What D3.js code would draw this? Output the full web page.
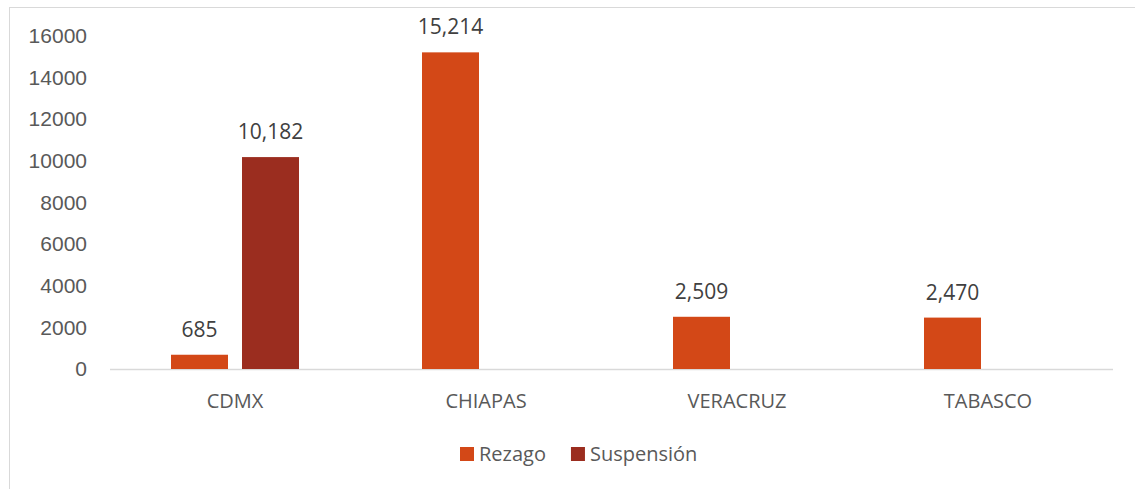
<!DOCTYPE html>
<html>
<head>
<meta charset="UTF-8">
<script src="https://d3js.org/d3.v7.min.js"></script>
<style>
    body { margin: 0; background: #fff; }
    svg { font-family: "Open Sans", sans-serif; display: block; }
    .tick-label { fill: #595959; font-size: 21px; }
    .cat-label { fill: #595959; font-size: 20px; }
    .val-label { fill: #404040; font-size: 21px; }
    .legend text { fill: #595959; font-size: 20px; }
</style>
</head>
<body>
<svg id="chart" width="1135" height="489"></svg>
<script>
var categories = ["CDMX", "CHIAPAS", "VERACRUZ", "TABASCO"];
var seriesNames = ["Rezago", "Suspensión"];
var rezago = [685, 15214, 2509, 2470];
var suspension = [10182, null, null, null];
var yTicks = [0, 2000, 4000, 6000, 8000, 10000, 12000, 14000, 16000];
var colors = ["#d34817", "#9b2d1f"];

var svg = d3.select('#chart');

// chart border (runs off the right and bottom)
svg.append('rect')
    .attr('x', 9.5).attr('y', 7.5)
    .attr('width', 1200).attr('height', 600)
    .attr('fill', 'none')
    .attr('stroke', '#d9d9d9');

var x0 = d3.scaleBand().domain(categories).range([109.5, 1113.5]);
var x1 = d3.scaleBand().domain(seriesNames).range([61.5, 189.5]).paddingInner(14 / 71);
var y = d3.scaleLinear().domain([0, 16000]).range([369, 36]);
var color = d3.scaleOrdinal().domain(seriesNames).range(colors);

// y axis labels
var yAxis = d3.axisLeft(y).tickValues(yTicks).tickSize(0).tickPadding(0).tickFormat(d3.format('d'));
var ya = svg.append('g').attr('transform', 'translate(87,0)').call(yAxis);
ya.select('.domain').remove();
ya.selectAll('text')
    .attr('class', 'tick-label')
    .attr('font-family', null).attr('font-size', null)
    .attr('fill', null);

// baseline
svg.append('line')
    .attr('x1', 110).attr('x2', 1113)
    .attr('y1', y(0) + 0.5).attr('y2', y(0) + 0.5)
    .attr('stroke', '#d9d9d9').attr('stroke-width', 1.5);

// bars
var rows = [];
categories.forEach(function(c, i) {
    rows.push({cat: c, s: seriesNames[0], v: rezago[i]});
    rows.push({cat: c, s: seriesNames[1], v: suspension[i]});
});
rows = rows.filter(function(d) { return d.v != null; });

svg.append('g').selectAll('rect')
    .data(rows)
    .join('rect')
    .attr('x', function(d) { return x0(d.cat) + x1(d.s); })
    .attr('y', function(d) { return y(d.v); })
    .attr('width', x1.bandwidth())
    .attr('height', function(d) { return y(0) - y(d.v); })
    .attr('fill', function(d) { return color(d.s); });

svg.append('g').selectAll('text')
    .data(rows)
    .join('text')
    .attr('class', 'val-label')
    .attr('text-anchor', 'middle')
    .attr('x', function(d) { return x0(d.cat) + x1(d.s) + x1.bandwidth() / 2; })
    .attr('y', function(d) { return y(d.v) - 18; })
    .text(function(d) { return d3.format(',')(d.v); });

// category labels
svg.append('g').selectAll('text')
    .data(categories)
    .join('text')
    .attr('class', 'cat-label')
    .attr('text-anchor', 'middle')
    .attr('x', function(d) { return x0(d) + x0.bandwidth() / 2; })
    .attr('y', 408)
    .text(function(d) { return d; });

// legend
var legend = svg.append('g').attr('class', 'legend');
var lx = 460;
seriesNames.forEach(function(s) {
    legend.append('rect')
        .attr('x', lx).attr('y', 447)
        .attr('width', 14).attr('height', 14)
        .attr('fill', color(s));
    var t = legend.append('text')
        .attr('x', lx + 19).attr('y', 461)
        .text(s);
    lx = lx + 19 + t.node().getComputedTextLength() + 25;
});
</script>
</body>
</html>
